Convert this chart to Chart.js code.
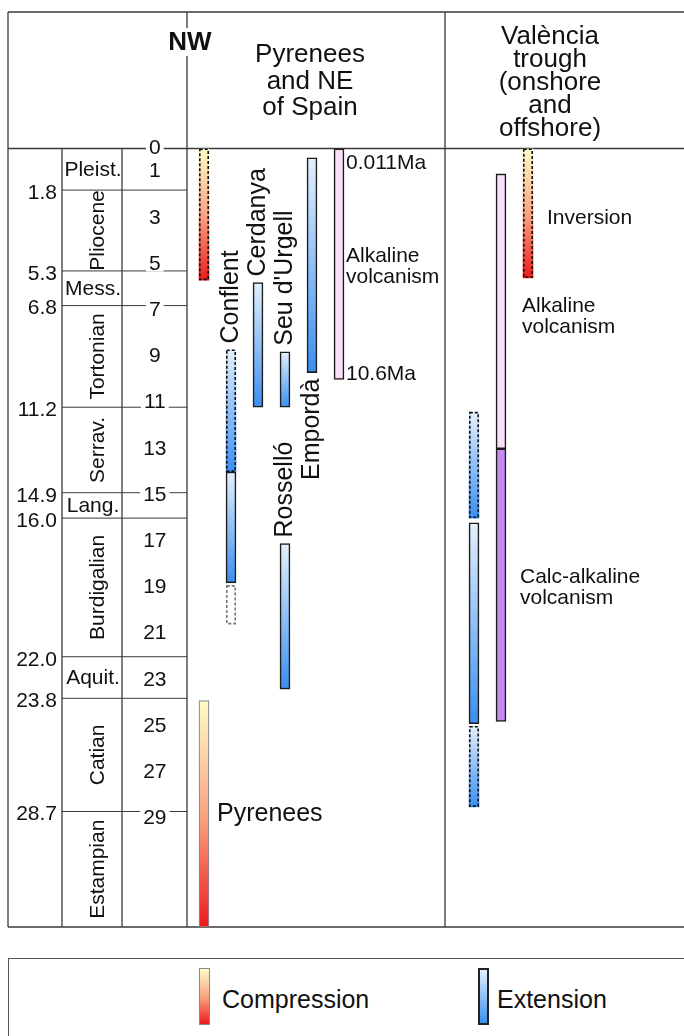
<!DOCTYPE html>
<html>
<head>
<meta charset="utf-8">
<title>Neogene compression, extension and volcanism: Pyrenees, NE Spain and València trough</title>
<script src="https://cdn.jsdelivr.net/npm/chart.js@4.4.1/dist/chart.umd.min.js"></script>
<style>
  body { margin: 0; background: #fff; font-family: "Liberation Sans", Arial, sans-serif; color: #111; }
  #wrap { position: relative; width: 684px; height: 1036px; overflow: hidden; }
  #chart { position: absolute; left: 0; top: 0; }
  #legend { position: absolute; left: 8px; top: 958px; width: 700px; height: 100px; border: 1.5px solid #555; box-sizing: border-box; }
  .swatch { position: absolute; top: 968px; width: 11px; height: 57px; box-sizing: border-box; }
  .key { position: absolute; top: 984px; font-size: 25px; line-height: 30px; }
</style>
</head>
<body>
<div id="wrap">
  <canvas id="chart" width="684" height="945"></canvas>
  <div id="legend"></div>
  <div class="swatch" id="swCompression" style="left:199px; border:1px solid #888;"></div>
  <span class="key" style="left:222px">Compression</span>
  <div class="swatch" id="swExtension" style="left:478px; border:2px solid #222;"></div>
  <span class="key" style="left:497px">Extension</span>
</div>
<script>
const FONT = '"Liberation Sans", Arial, sans-serif';

// time axis (Ma)
const ageMax = 33.7;
const tickValues = [0, 1, 3, 5, 7, 9, 11, 13, 15, 17, 19, 21, 23, 25, 27, 29];
const stageBounds = [0, 1.8, 5.3, 6.8, 11.2, 14.9, 16.0, 22.0, 23.8, 28.7, ageMax];
const stageNames = ['Pleist.', 'Pliocene', 'Mess.', 'Tortonian', 'Serrav.', 'Lang.', 'Burdigalian', 'Aquit.', 'Catian', 'Estampian'];

// lanes (gap lanes are empty columns)
const lanes = ['Pyrenees', 'Conflent', 'Cerdanya', "Seu d'Urgell / Rosselló", 'Empordà', 'NE alkaline',
  'gap 1', 'gap 2', 'gap 3', 'gap 4', 'VT extension', 'VT volcanism', 'VT inversion',
  'gap 5', 'gap 6', 'gap 7', 'gap 8', 'gap 9'];

// events [start, end] in Ma
const compressionLanes = ['Pyrenees'];
const compressionRanges = [[23.9, ageMax]];
const compressionDashedLanes = ['Pyrenees', 'VT inversion'];
const compressionDashedRanges = [[0, 5.7], [0, 5.6]];
const extensionLanes = ['Conflent', 'Cerdanya', "Seu d'Urgell / Rosselló", "Seu d'Urgell / Rosselló", 'Empordà', 'VT extension'];
const extensionRanges = [[14.0, 18.8], [5.8, 11.2], [8.8, 11.2], [17.1, 23.4], [0.4, 9.7], [16.2, 24.9]];
const extensionDashedLanes = ['Conflent', 'VT extension', 'VT extension'];
const extensionDashedRanges = [[8.7, 14.0], [11.4, 16.0], [25.0, 28.5]];
const possibleLanes = ['Conflent'];
const possibleRanges = [[18.9, 20.6]];
const alkalineLanes = ['NE alkaline', 'VT volcanism'];
const alkalineRanges = [[0.011, 10.0], [1.1, 13.0]];
const calcAlkalineLanes = ['VT volcanism'];
const calcAlkalineRanges = [[13.0, 24.8]];

const compressionStops = ['#fffcc8', '#f9a583', '#ed1c1c'];
const extensionStops = ['#e4f0fc', '#3a8ff0'];

document.getElementById('swCompression').style.background = `linear-gradient(${compressionStops.join(',')})`;
document.getElementById('swExtension').style.background = `linear-gradient(${extensionStops.join(',')})`;

// table layout
const COL = { outer: 8, stage: 62, num: 122, nw: 187, vt: 445 };
const HEAD_TOP = 12;

function segments(laneList, ranges) {
  return ranges.map((r, i) => ({ x: laneList[i], y: r }));
}

function gradientFill(stops) {
  return ctx => {
    const chart = ctx.chart;
    if (!chart.chartArea || !ctx.raw) return stops[stops.length - 1];
    const y = chart.scales.y;
    const [a, b] = ctx.raw.y;
    const g = chart.ctx.createLinearGradient(0, y.getPixelForValue(a), 0, y.getPixelForValue(b));
    stops.forEach((c, i) => g.addColorStop(i / (stops.length - 1), c));
    return g;
  };
}

const datasets = [
  { label: 'Compression', data: segments(compressionLanes, compressionRanges),
    backgroundColor: gradientFill(compressionStops), borderColor: '#8a8a8a', borderWidth: 1.2 },
  { label: 'Compression (uncertain)', data: segments(compressionDashedLanes, compressionDashedRanges),
    backgroundColor: gradientFill(compressionStops), borderWidth: 0, dashed: '#111' },
  { label: 'Extension', data: segments(extensionLanes, extensionRanges),
    backgroundColor: gradientFill(extensionStops), borderColor: '#1c1c1c', borderWidth: 1.6 },
  { label: 'Extension (uncertain)', data: segments(extensionDashedLanes, extensionDashedRanges),
    backgroundColor: gradientFill(extensionStops), borderWidth: 0, dashed: '#111' },
  { label: 'Extension (possible)', data: segments(possibleLanes, possibleRanges),
    backgroundColor: '#fff', borderWidth: 0, dashed: '#777' },
  { label: 'Alkaline volcanism', data: segments(alkalineLanes, alkalineRanges),
    backgroundColor: '#f9e0f8', borderColor: '#1c1c1c', borderWidth: 1.6 },
  { label: 'Calc-alkaline volcanism', data: segments(calcAlkalineLanes, calcAlkalineRanges),
    backgroundColor: '#c38bf2', borderColor: '#1c1c1c', borderWidth: 1.6 }
].map(d => Object.assign({ barThickness: 10, grouped: false, borderSkipped: false }, d));

// rotated basin names, attached to a bar
const barLabels = [
  { text: 'Conflent', set: 'Extension (uncertain)', index: 0, side: 'above' },
  { text: 'Cerdanya', set: 'Extension', index: 1, side: 'above' },
  { text: "Seu d'Urgell", set: 'Extension', index: 2, side: 'above' },
  { text: 'Rosselló', set: 'Extension', index: 3, side: 'above' },
  { text: 'Empordà', set: 'Extension', index: 4, side: 'below' }
];

// horizontal notes next to a lane
const notes = [
  { text: ['0.011Ma'], lane: 'NE alkaline', dx: 7, at: 0.63 },
  { text: ['Alkaline', 'volcanism'], lane: 'NE alkaline', dx: 7, at: 5.13 },
  { text: ['10.6Ma'], lane: 'NE alkaline', dx: 7, at: 9.76 },
  { text: ['Inversion'], lane: 'VT inversion', dx: 19, at: 3.0 },
  { text: ['Alkaline', 'volcanism'], lane: 'VT volcanism', dx: 21, at: 7.27 },
  { text: ['Calc-alkaline', 'volcanism'], lane: 'VT volcanism', dx: 19, at: 19.0 },
  { text: ['Pyrenees'], lane: 'Pyrenees', dx: 13, at: 28.8, size: 25 }
];

const headerLeft = ['Pyrenees', 'and NE', 'of Spain'];
const headerRight = ['València', 'trough', '(onshore', 'and', 'offshore)'];

function line(ctx, x1, y1, x2, y2) {
  ctx.beginPath();
  ctx.moveTo(x1, y1);
  ctx.lineTo(x2, y2);
  ctx.stroke();
}

// table grid, stage column and headers
const frame = {
  id: 'frame',
  beforeDraw(chart) {
    const { ctx } = chart;
    const y = chart.scales.y;
    const W = chart.width;
    const top = y.getPixelForValue(0);
    const bottom = y.getPixelForValue(ageMax);
    ctx.save();
    ctx.strokeStyle = '#3a3a3a';
    ctx.lineWidth = 1.3;
    line(ctx, COL.outer, HEAD_TOP, W, HEAD_TOP);
    line(ctx, COL.outer, top, W, top);
    line(ctx, COL.outer, bottom, W, bottom);
    [COL.outer, COL.nw, COL.vt].forEach(x => line(ctx, x, HEAD_TOP, x, bottom));
    [COL.stage, COL.num].forEach(x => line(ctx, x, top, x, bottom));
    ctx.lineWidth = 1;
    stageBounds.slice(1, -1).forEach(b => {
      const py = y.getPixelForValue(b);
      line(ctx, COL.stage, py, COL.nw, py);
    });

    ctx.fillStyle = '#111';
    ctx.font = `21px ${FONT}`;
    ctx.textBaseline = 'middle';
    ctx.textAlign = 'right';
    stageBounds.slice(1, -1).forEach(b => {
      ctx.fillText(b.toFixed(1), COL.stage - 5, y.getPixelForValue(b) + 3);
    });

    ctx.textAlign = 'center';
    stageNames.forEach((name, i) => {
      const y1 = y.getPixelForValue(stageBounds[i]);
      const y2 = y.getPixelForValue(stageBounds[i + 1]);
      const mid = (y1 + y2) / 2;
      if (y2 - y1 > 60) {
        ctx.save();
        ctx.translate(98, mid);
        ctx.rotate(-Math.PI / 2);
        ctx.fillText(name, 0, 0);
        ctx.restore();
      } else {
        ctx.fillText(name, 93, mid + 1);
      }
    });

    ctx.textBaseline = 'alphabetic';
    ctx.font = `26px ${FONT}`;
    headerLeft.forEach((t, i) => ctx.fillText(t, 310, 62 + i * 26.5));
    headerRight.forEach((t, i) => ctx.fillText(t, 550, 44 + i * 23));
    ctx.restore();
  }
};

// dashed outlines, labels
const marks = {
  id: 'marks',
  afterDatasetsDraw(chart) {
    const { ctx } = chart;
    const y = chart.scales.y;
    const x = chart.scales.x;
    ctx.save();

    chart.data.datasets.forEach((ds, i) => {
      if (!ds.dashed) return;
      chart.getDatasetMeta(i).data.forEach(el => {
        const p = el.getProps(['x', 'y', 'base', 'width'], true);
        ctx.setLineDash([3, 2]);
        ctx.lineWidth = 1.6;
        ctx.strokeStyle = ds.dashed;
        ctx.strokeRect(p.x - p.width / 2 + 0.8, Math.min(p.y, p.base) + 0.8, p.width - 1.6, Math.abs(p.base - p.y) - 1.6);
      });
    });
    ctx.setLineDash([]);

    ctx.fillStyle = '#111';
    ctx.font = `25px ${FONT}`;
    ctx.textBaseline = 'middle';
    barLabels.forEach(l => {
      const di = chart.data.datasets.findIndex(d => d.label === l.set);
      const el = chart.getDatasetMeta(di).data[l.index];
      const top = Math.min(el.y, el.base);
      const bot = Math.max(el.y, el.base);
      ctx.save();
      ctx.translate(el.x, l.side === 'above' ? top - 6 : bot + 6);
      ctx.rotate(-Math.PI / 2);
      ctx.textAlign = l.side === 'above' ? 'left' : 'right';
      ctx.fillText(l.text, 0, 0);
      ctx.restore();
    });

    ctx.textAlign = 'left';
    notes.forEach(n => {
      const size = n.size || 21;
      ctx.font = `${size}px ${FONT}`;
      const px = x.getPixelForValue(n.lane) + n.dx;
      const mid = y.getPixelForValue(n.at);
      const lh = 21;
      n.text.forEach((t, i) => {
        ctx.fillText(t, px, mid + (i - (n.text.length - 1) / 2) * lh);
      });
    });

    // NW sits over the divider
    ctx.font = `bold 26px ${FONT}`;
    ctx.textAlign = 'center';
    ctx.textBaseline = 'alphabetic';
    const w = ctx.measureText('NW').width;
    ctx.fillStyle = '#fff';
    ctx.fillRect(COL.nw + 3 - w / 2 - 2, 28, w + 4, 28);
    ctx.fillStyle = '#111';
    ctx.fillText('NW', COL.nw + 3, 50);
    ctx.restore();
  }
};

new Chart(document.getElementById('chart'), {
  type: 'bar',
  data: { labels: lanes, datasets },
  options: {
    responsive: false,
    animation: false,
    events: [],
    layout: { padding: { left: 122, right: 7.5, top: 148.5, bottom: 18 } },
    scales: {
      x: { type: 'category', display: false },
      y: {
        type: 'linear',
        reverse: true,
        min: 0,
        max: ageMax,
        afterBuildTicks: axis => { axis.ticks = tickValues.map(v => ({ value: v })); },
        afterFit: axis => {
          axis.width = 68.5;
          axis.paddingTop = 0;
          axis.paddingBottom = 0;
        },
        grid: { display: false, drawTicks: false },
        border: { display: false },
        ticks: {
          autoSkip: false,
          crossAlign: 'center',
          padding: 24,
          color: '#111',
          font: { size: 21, family: FONT },
          showLabelBackdrop: true,
          backdropColor: '#fff',
          backdropPadding: { top: -5, bottom: -5, left: 3, right: 3 }
        }
      }
    },
    plugins: {
      legend: { display: false },
      tooltip: { enabled: false }
    }
  },
  plugins: [frame, marks]
});
</script>
</body>
</html>
